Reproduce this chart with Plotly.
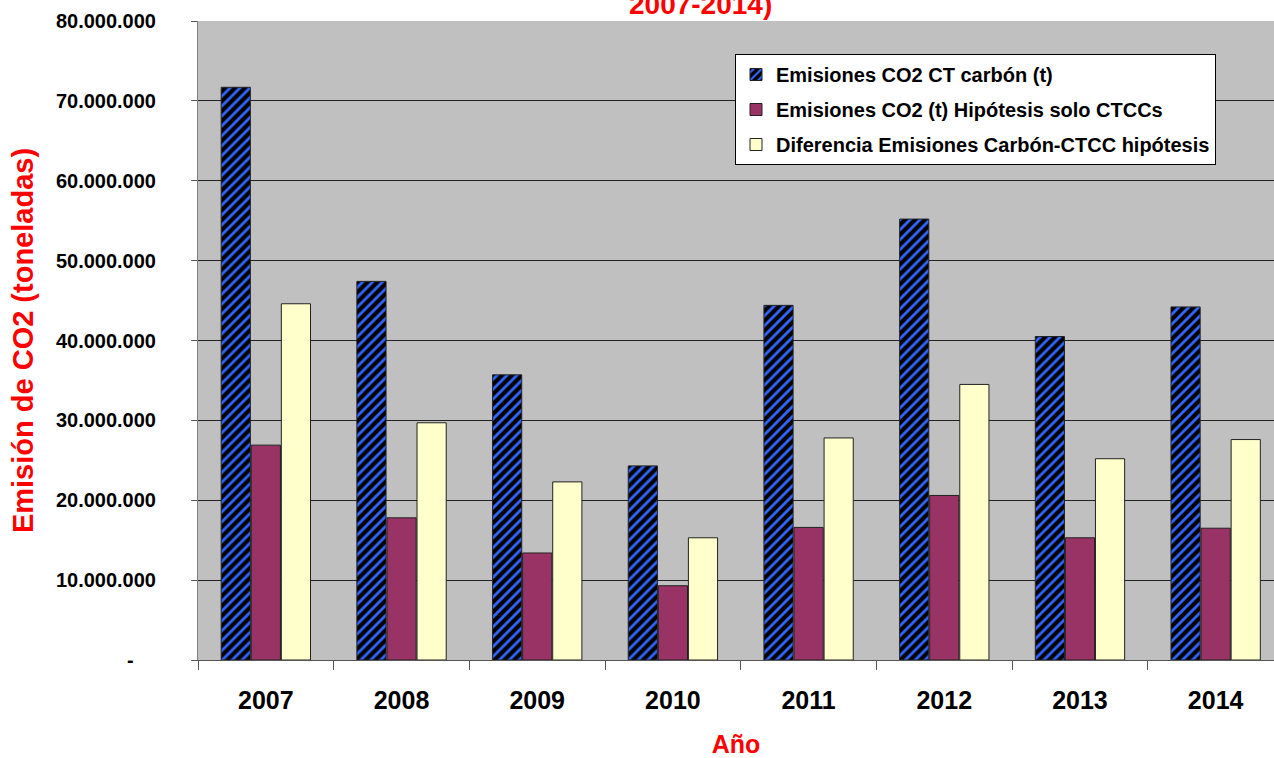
import plotly.graph_objects as go

years = ["2007", "2008", "2009", "2010", "2011", "2012", "2013", "2014"]
carbon = [71.7e6, 47.4e6, 35.7e6, 24.3e6, 44.4e6, 55.2e6, 40.5e6, 44.2e6]
ctcc = [26.9e6, 17.8e6, 13.4e6, 9.3e6, 16.6e6, 20.6e6, 15.3e6, 16.5e6]
diff = [44.6e6, 29.7e6, 22.3e6, 15.3e6, 27.8e6, 34.5e6, 25.2e6, 27.6e6]

names = ["Emisiones CO2 CT carbón (t)",
         "Emisiones CO2 (t) Hipótesis solo CTCCs",
         "Diferencia Emisiones Carbón-CTCC hipótesis"]

tick_vals = [0, 10e6, 20e6, 30e6, 40e6, 50e6, 60e6, 70e6, 80e6]
tick_text = ["-\u00a0\u00a0\u00a0\u00a0", "10.000.000", "20.000.000", "30.000.000", "40.000.000",
             "50.000.000", "60.000.000", "70.000.000", "80.000.000"]

FONT = "Liberation Sans, Arial, sans-serif"

fig = go.Figure()
fig.add_trace(go.Bar(
    x=years, y=carbon, name=names[0], legendgroup="a",
    marker=dict(color="black", line=dict(color="#222222", width=1),
                pattern=dict(shape="/", fgcolor="#3366ff", bgcolor="black",
                             size=7, solidity=0.4, fillmode="replace")),
))
fig.add_trace(go.Bar(
    x=years, y=ctcc, name=names[1], legendgroup="b",
    marker=dict(color="#993366", line=dict(color="#222222", width=1)),
))
fig.add_trace(go.Bar(
    x=years, y=diff, name=names[2], legendgroup="c",
    marker=dict(color="#ffffcc", line=dict(color="#222222", width=1)),
))

fig.update_layout(
    width=1274, height=758,
    margin=dict(l=198, r=0, t=21, b=98, autoexpand=False),
    paper_bgcolor="white", plot_bgcolor="#c0c0c0",
    barmode="group", bargap=0.335, bargroupgap=0.03,
    font=dict(family=FONT, color="black"),
    showlegend=True,
    legend=dict(
        x=(735 - 198) / 1076, y=(660 - 54) / 639, xanchor="left", yanchor="top",
        bgcolor="white", bordercolor="black", borderwidth=1,
        font=dict(family=FONT, size=20, color="black", weight="bold"),
        traceorder="grouped", tracegroupgap=6, itemwidth=30,
    ),
    xaxis=dict(
        range=[-0.5, 7.43], showgrid=False, automargin=False,
        showline=True, linecolor="#555555", linewidth=1,
        ticks="outside", tickson="boundaries", ticklen=9, tickcolor="#555555",
        ticklabelstandoff=18,
        tickfont=dict(family=FONT, size=25, color="black", weight="bold"),
        title=dict(text="<b>Año</b>", font=dict(family=FONT, size=25, color="red"), standoff=22),
    ),
    yaxis=dict(
        range=[0, 80e6], tickvals=tick_vals, ticktext=tick_text, automargin=False,
        showgrid=True, gridcolor="#222222", gridwidth=1,
        showline=True, linecolor="#808080", linewidth=1, mirror=True,
        ticks="outside", ticklen=6, tickcolor="#555555",
        ticklabelstandoff=31,
        tickfont=dict(family=FONT, size=20, color="black", weight="bold"),
        title=dict(text="<b>Emisión de CO2 (toneladas)</b>",
                   font=dict(family=FONT, size=29, color="red"), standoff=13),
        zeroline=False,
    ),
)

fig.add_annotation(
    text="<b>2007-2014)</b>", xref="paper", yref="paper",
    x=(700 - 198) / 1076, y=(660 - 4) / 639, xanchor="center", yanchor="middle",
    showarrow=False, font=dict(family=FONT, size=28, color="red"),
)

fig.write_html(
    "out.html",
    config={"displayModeBar": False},
    post_script="document.body.style.margin='0';document.body.style.overflow='hidden';",
)
